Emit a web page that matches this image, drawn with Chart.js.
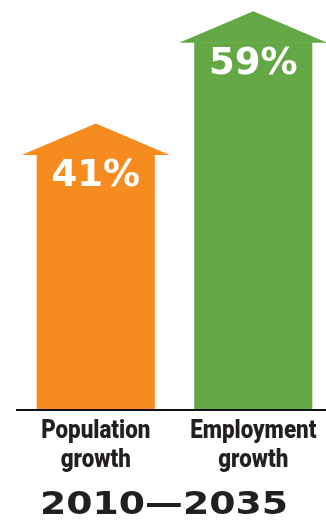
<!DOCTYPE html>
<html>
<head>
<meta charset="utf-8">
<script src="https://cdn.jsdelivr.net/npm/chart.js@4"></script>
<style>
  html, body { margin: 0; padding: 0; background: #fff; overflow: hidden; }
  #wrap { width: 332px; height: 523px; position: relative; }
</style>
</head>
<body>
<div id="wrap"><canvas id="growthChart"></canvas></div>
<script>
// data
const categories = [['Population', 'growth'], ['Employment', 'growth']];
const growthPct = [41, 59];
const barColors = ['#F68B1F', '#63A844'];
const periodLabel = '2010\u20142035';

const textDark = '#231F20';

// arrow head on top of each bar, the white % label, the condensed category
// labels and the wide period title under the axis
const arrowHeads = {
    id: 'arrowHeads',
    afterDatasetsDraw(chart) {
        const ctx = chart.ctx;
        const meta = chart.getDatasetMeta(0);
        meta.data.forEach(function (bar, i) {
            const half = bar.width / 2;
            ctx.save();
            ctx.fillStyle = barColors[i];
            ctx.beginPath();
            ctx.moveTo(bar.x - half - 15, bar.y + 0.5);
            ctx.lineTo(bar.x, bar.y - 31);
            ctx.lineTo(bar.x + half + 15, bar.y + 0.5);
            ctx.closePath();
            ctx.fill();

            ctx.fillStyle = '#fff';
            ctx.font = 'bold 37px "DejaVu Sans"';
            ctx.textAlign = 'center';
            ctx.textBaseline = 'alphabetic';
            ctx.fillText(growthPct[i] + '%', bar.x, bar.y + 32);
            ctx.restore();
        });
    },
    afterDraw(chart) {
        const ctx = chart.ctx;
        const xScale = chart.scales.x;
        const base = chart.chartArea.bottom;
        ctx.save();
        ctx.fillStyle = textDark;
        ctx.textAlign = 'center';
        ctx.textBaseline = 'alphabetic';
        ctx.font = '900 26px Roboto';
        categories.forEach(function (lines, i) {
            const cx = xScale.getPixelForValue(i);
            lines.forEach(function (line, j) {
                ctx.save();
                ctx.translate(cx, base + 28 + j * 29);
                ctx.scale(0.86, 1);
                ctx.fillText(line, 0, 0);
                ctx.restore();
            });
        });
        ctx.font = 'bold 32px "DejaVu Sans"';
        ctx.translate(164, 514);
        ctx.scale(1.18, 1);
        ctx.fillText(periodLabel, 0, 0);
        ctx.restore();
    }
};

const ctx = document.getElementById('growthChart').getContext('2d');
const growthChart = new Chart(ctx, {
    type: 'bar',
    data: {
        labels: categories,
        datasets: [{
            data: growthPct,
            backgroundColor: barColors,
            borderWidth: 0,
            barPercentage: 0.75,
            categoryPercentage: 1
        }]
    },
    options: {
        responsive: true,
        maintainAspectRatio: false,
        animation: false,
        layout: {
            padding: { left: 17, right: 0, top: 11, bottom: 113 }
        },
        scales: {
            x: {
                grid: { display: false, drawTicks: false },
                border: { display: true, color: '#111', width: 2, z: 1 },
                ticks: { display: false }
            },
            y: {
                display: false,
                min: 0,
                max: 64
            }
        },
        plugins: {
            legend: { display: false },
            tooltip: { enabled: false }
        }
    },
    plugins: [arrowHeads]
});
</script>
</body>
</html>
